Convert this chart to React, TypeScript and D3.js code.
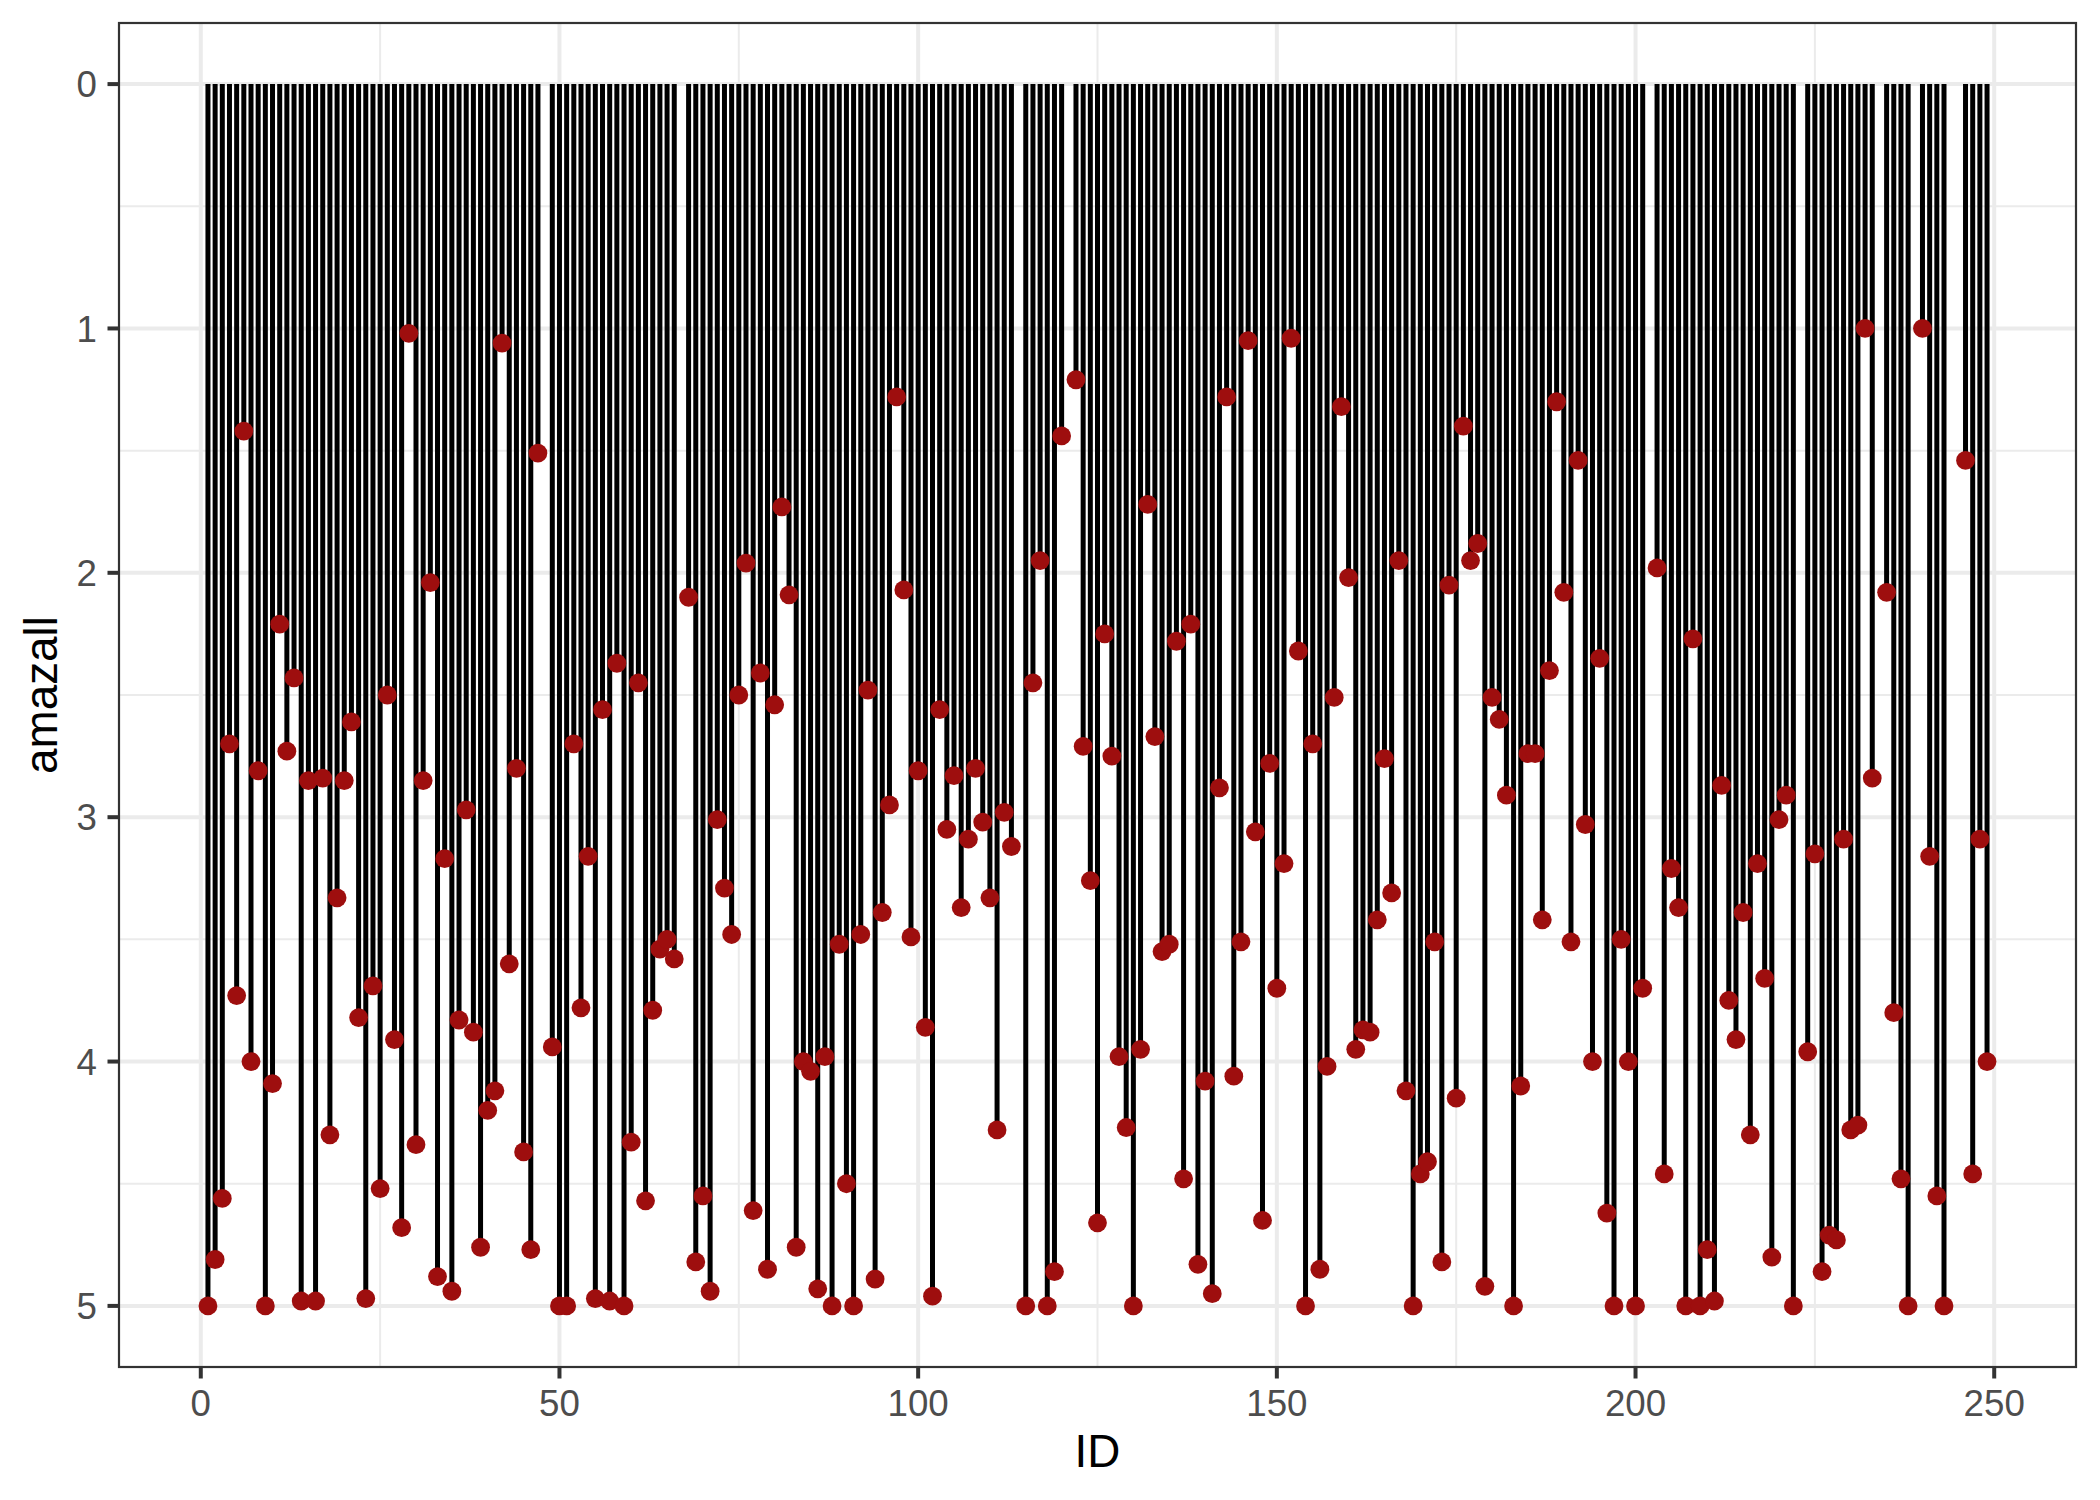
import React from "react";
import * as d3 from "d3";

// amazall value per ID (1..249); null = no observation for that ID
const ids: number[] = d3.range(1, 250);
const amazall: (number | null)[] = [
  5.0, 4.81, 4.56, 2.70, 3.73, 1.42, 4.00, 2.81, 5.0, 4.09,
  2.21, 2.73, 2.43, 4.98, 2.85, 4.98, 2.84, 4.30, 3.33, 2.85,
  2.61, 3.82, 4.97, 3.69, 4.52, 2.50, 3.91, 4.68, 1.02, 4.34,
  2.85, 2.04, 4.88, 3.17, 4.94, 3.83, 2.97, 3.88, 4.76, 4.20,
  4.12, 1.06, 3.60, 2.80, 4.37, 4.77, 1.51, null, 3.94, 5.0,
  5.0, 2.70, 3.78, 3.16, 4.97, 2.56, 4.98, 2.37, 5.0, 4.33,
  2.45, 4.57, 3.79, 3.54, 3.50, 3.58, null, 2.10, 4.82, 4.55,
  4.94, 3.01, 3.29, 3.48, 2.50, 1.96, 4.61, 2.41, 4.85, 2.54,
  1.73, 2.09, 4.76, 4.00, 4.04, 4.93, 3.98, 5.0, 3.52, 4.50,
  5.0, 3.48, 2.48, 4.89, 3.39, 2.95, 1.28, 2.07, 3.49, 2.81,
  3.86, 4.96, 2.56, 3.05, 2.83, 3.37, 3.09, 2.80, 3.02, 3.33,
  4.28, 2.98, 3.12, null, 5.0, 2.45, 1.95, 5.0, 4.86, 1.44,
  null, 1.21, 2.71, 3.26, 4.66, 2.25, 2.75, 3.98, 4.27, 5.0,
  3.95, 1.72, 2.67, 3.55, 3.52, 2.28, 4.48, 2.21, 4.83, 4.08,
  4.95, 2.88, 1.28, 4.06, 3.51, 1.05, 3.06, 4.65, 2.78, 3.70,
  3.19, 1.04, 2.32, 5.0, 2.70, 4.85, 4.02, 2.51, 1.32, 2.02,
  3.95, 3.87, 3.88, 3.42, 2.76, 3.31, 1.95, 4.12, 5.0, 4.46,
  4.41, 3.51, 4.82, 2.05, 4.15, 1.40, 1.95, 1.88, 4.92, 2.51,
  2.60, 2.91, 5.0, 4.10, 2.74, 2.74, 3.42, 2.40, 1.30, 2.08,
  3.51, 1.54, 3.03, 4.00, 2.35, 4.62, 5.0, 3.50, 4.00, 5.0,
  3.70, null, 1.98, 4.46, 3.21, 3.37, 5.0, 2.27, 5.0, 4.77,
  4.98, 2.87, 3.75, 3.91, 3.39, 4.30, 3.19, 3.66, 4.80, 3.01,
  2.91, 5.0, null, 3.96, 3.15, 4.86, 4.71, 4.73, 3.09, 4.28,
  4.26, 1.00, 2.84, null, 2.08, 3.80, 4.48, 5.0, null, 1.00,
  3.16, 4.55, 5.0, null, null, 1.54, 4.46, 3.09, 4.00,
];

const xTicks: number[] = [0, 50, 100, 150, 200, 250];
const xMinor: number[] = [25, 75, 125, 175, 225];
const yTicks: number[] = [0, 1, 2, 3, 4, 5];
const yMinor: number[] = [0.5, 1.5, 2.5, 3.5, 4.5];
const xTitle = "ID";
const yTitle = "amazall";

export default function App() {
  const W = 2100;
  const H = 1500;
  const panel = { left: 119, top: 23, right: 2076, bottom: 1367 };

  const data = ids
    .map((id, i) => ({ id, v: amazall[i] }))
    .filter((d) => d.v !== null) as { id: number; v: number }[];

  const xExt = d3.extent(data, (d) => d.id) as [number, number];
  const xPad = (xExt[1] - xExt[0]) * 0.05;
  const x = d3
    .scaleLinear()
    .domain([xExt[0] - xPad, xExt[1] + xPad])
    .range([panel.left, panel.right]);
  const yPad = 5 * 0.05;
  const y = d3
    .scaleLinear()
    .domain([0 - yPad, 5 + yPad])
    .range([panel.top, panel.bottom]);

  const font = "'Liberation Sans', Arial, Helvetica, sans-serif";
  const grid = "#EBEBEB";

  return (
    <svg
      width={W}
      height={H}
      viewBox={`0 0 ${W} ${H}`}
      style={{ position: "absolute", left: 0, top: 0, background: "#fff" }}
    >
      <rect x={0} y={0} width={W} height={H} fill="#fff" />
      {/* minor grid */}
      {xMinor.map((t) => (
        <line key={"xm" + t} x1={x(t)} x2={x(t)} y1={panel.top} y2={panel.bottom} stroke={grid} strokeWidth={2} />
      ))}
      {yMinor.map((t) => (
        <line key={"ym" + t} x1={panel.left} x2={panel.right} y1={y(t)} y2={y(t)} stroke={grid} strokeWidth={2} />
      ))}
      {/* major grid */}
      {xTicks.map((t) => (
        <line key={"xg" + t} x1={x(t)} x2={x(t)} y1={panel.top} y2={panel.bottom} stroke={grid} strokeWidth={4} />
      ))}
      {yTicks.map((t) => (
        <line key={"yg" + t} x1={panel.left} x2={panel.right} y1={y(t)} y2={y(t)} stroke={grid} strokeWidth={4} />
      ))}
      {/* stems */}
      {data.map((d) => (
        <line key={"s" + d.id} x1={x(d.id)} x2={x(d.id)} y1={y(0)} y2={y(d.v)} stroke="#000" strokeWidth={5} />
      ))}
      {/* points */}
      {data.map((d) => (
        <circle key={"p" + d.id} cx={x(d.id)} cy={y(d.v)} r={9.4} fill="#9E0E0E" />
      ))}
      {/* panel border */}
      <rect
        x={panel.left}
        y={panel.top}
        width={panel.right - panel.left}
        height={panel.bottom - panel.top}
        fill="none"
        stroke="#333333"
        strokeWidth={2.2}
      />
      {/* x axis ticks */}
      {xTicks.map((t) => (
        <g key={"xt" + t}>
          <line x1={x(t)} x2={x(t)} y1={panel.bottom} y2={panel.bottom + 11.5} stroke="#333333" strokeWidth={4} />
          <text x={x(t)} y={1416} textAnchor="middle" fontFamily={font} fontSize={36.7} fill="#4D4D4D">
            {t}
          </text>
        </g>
      ))}
      {/* y axis ticks */}
      {yTicks.map((t) => (
        <g key={"yt" + t}>
          <line x1={panel.left - 11.5} x2={panel.left} y1={y(t)} y2={y(t)} stroke="#333333" strokeWidth={4} />
          <text x={97} y={y(t)} dy="0.36em" textAnchor="end" fontFamily={font} fontSize={36.7} fill="#4D4D4D">
            {t}
          </text>
        </g>
      ))}
      {/* titles */}
      <text x={(panel.left + panel.right) / 2} y={1467} textAnchor="middle" fontFamily={font} fontSize={45.8} fill="#000">
        {xTitle}
      </text>
      <text
        transform={`translate(57, ${(panel.top + panel.bottom) / 2}) rotate(-90)`}
        textAnchor="middle"
        fontFamily={font}
        fontSize={45.8}
        fill="#000"
      >
        {yTitle}
      </text>
    </svg>
  );
}
